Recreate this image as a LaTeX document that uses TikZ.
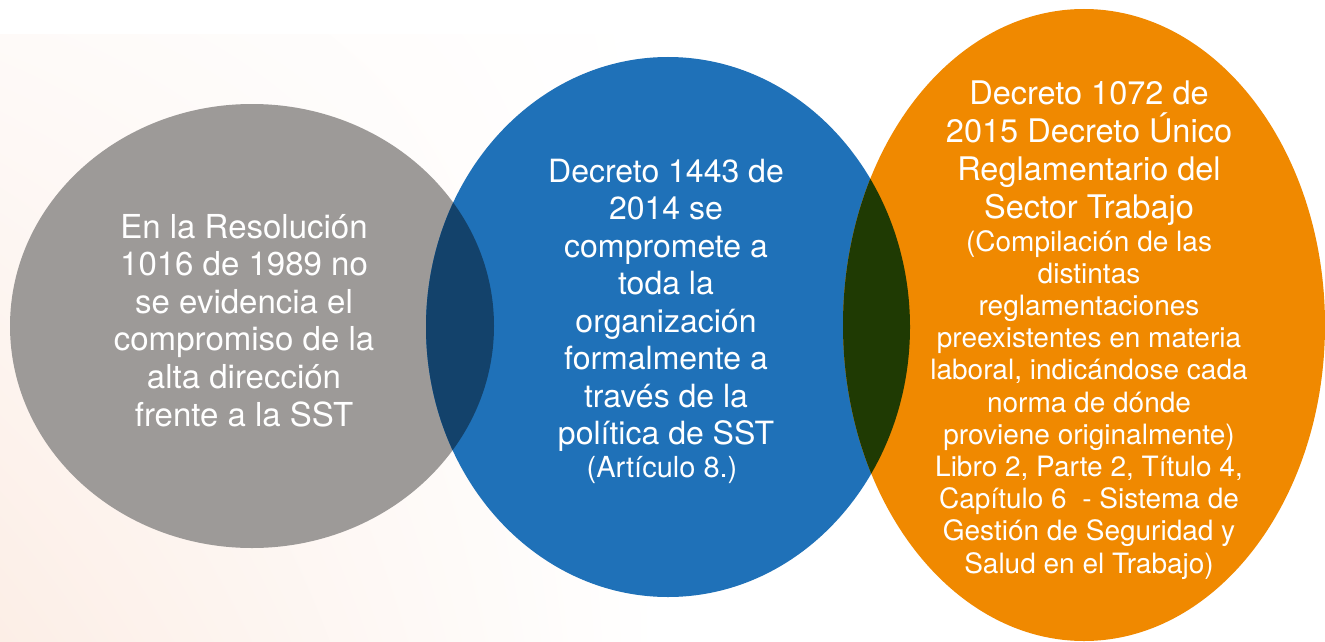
\documentclass[tikz,border=0pt]{standalone}
\usepackage{fontspec}
\setmainfont{TeX Gyre Heros}
\usetikzlibrary{shadings}
\definecolor{cgray}{RGB}{157,154,152}
\definecolor{cblue}{RGB}{31,113,184}
\definecolor{corange}{RGB}{240,137,0}
\definecolor{lensgb}{RGB}{19,66,107}
\definecolor{lensbo}{RGB}{31,58,3}
\definecolor{peach}{RGB}{252,238,230}
\definecolor{peachlt}{RGB}{254,250,248}
\begin{document}
\begin{tikzpicture}[x=1pt,y=-1pt,
  txt/.style={text=white, inner sep=0pt, anchor=base},
  graytxt/.style={txt, font=\fontsize{33}{38}\selectfont},
  bluetxt/.style={txt, font=\fontsize{32}{38}\selectfont},
  bluesmall/.style={txt, font=\fontsize{29}{32}\selectfont},
  orbig/.style={txt, font=\fontsize{32.5}{38}\selectfont},
  orsmall/.style={txt, font=\fontsize{28}{32}\selectfont}]
\useasboundingbox (0,0) rectangle (1325,642);
\clip (0,0) rectangle (1325,642);
\fill[white] (0,0) rectangle (1325,642);
% faint background
\shade[lower left=peach, upper left=peachlt, lower right=white, upper right=white] (0,35) rectangle (660,642);
% circles
\fill[cgray] (252,326) ellipse [x radius=242pt, y radius=222pt];
\fill[cblue] (668,327) ellipse [x radius=242pt, y radius=270pt];
\fill[corange] (1084,325) ellipse [x radius=241pt, y radius=316pt];
% overlaps
\begin{scope}
  \clip (252,326) ellipse [x radius=242pt, y radius=222pt];
  \fill[lensgb] (668,327) ellipse [x radius=242pt, y radius=270pt];
\end{scope}
\begin{scope}
  \clip (668,327) ellipse [x radius=242pt, y radius=270pt];
  \fill[lensbo] (1084,325) ellipse [x radius=241pt, y radius=316pt];
\end{scope}
% gray text
\foreach \t [count=\i] in {{En la Resolución},{1016 de 1989 no},{se evidencia el},{compromiso de la},{alta dirección},{frente a la SST}}
  \node[graytxt, name=g\i] at (244, {238+(\i-1)*37.6}) {\t};
% blue text
\foreach \t [count=\i] in {{Decreto 1443 de},{2014 se},{compromete a},{toda la},{organización},{formalmente a},{través de la},{política de SST}}
  \node[bluetxt, name=b\i] at (666, {182+(\i-1)*37.5}) {\t};
\node[bluesmall, name=b9] at (662,477) {(Artículo 8.)};
% orange text
\foreach \t [count=\i] in {{Decreto 1072 de},{2015 Decreto Único},{Reglamentario del},{Sector Trabajo}}
  \node[orbig, name=o\i] at (1089, {104+(\i-1)*38}) {\t};
\foreach \t [count=\i] in {{(Compilación de las},{distintas},{reglamentaciones},{preexistentes en materia},{laboral, indicándose cada},{norma de dónde},{proviene originalmente)},{Libro 2, Parte 2, Título 4,},{Capítulo 6\ \ - Sistema de},{Gestión de Seguridad y},{Salud en el Trabajo)}}
  \node[orsmall, name=s\i] at (1089, {251+(\i-1)*32.2}) {\t};
\end{tikzpicture}
\end{document}
